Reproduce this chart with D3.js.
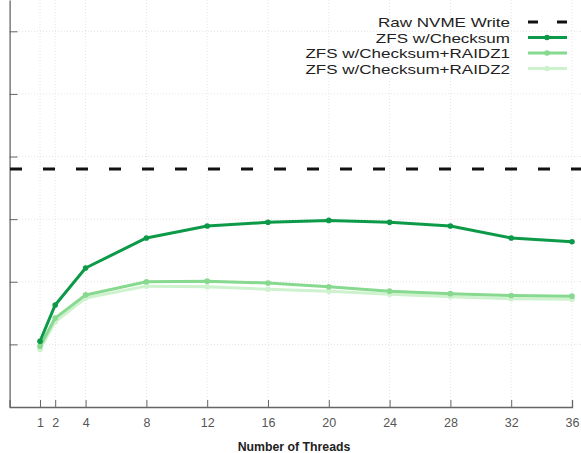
<!DOCTYPE html>
<html><head><meta charset="utf-8">
<script src="https://cdn.jsdelivr.net/npm/d3@7"></script>
<style>body{margin:0;background:#fff}svg{display:block}</style>
</head><body>
<svg id="c" width="581" height="453"></svg>
<script>
const threads = [1, 2, 4, 8, 12, 16, 20, 24, 28, 32, 36];
const xTicks = [1, 2, 4, 8, 12, 16, 20, 24, 28, 32, 36];
const yTicks = [1, 2, 3, 4, 5, 6];
const rawNvme = 3.80;
const zfsChecksum = [1.05, 1.63, 2.22, 2.70, 2.89, 2.95, 2.98, 2.95, 2.89, 2.70, 2.64];
const zfsRaidz1   = [0.97, 1.42, 1.79, 2.00, 2.01, 1.98, 1.92, 1.85, 1.81, 1.78, 1.77];
const zfsRaidz2   = [0.92, 1.36, 1.74, 1.93, 1.92, 1.88, 1.85, 1.80, 1.76, 1.73, 1.72];
const seriesNames = ["Raw NVME Write", "ZFS w/Checksum", "ZFS w/Checksum+RAIDZ1", "ZFS w/Checksum+RAIDZ2"];
const colors = ["#111", "#0c9a48", "#86d98f", "#cdf2cd"];

const svg = d3.select("#c");
const x = d3.scaleLinear().domain([-1, 36]).range([9.6, 572]);
const y = d3.scaleLinear().domain([0, 6.5]).range([407, 0]);
const font = "Liberation Sans, Arial, sans-serif";

// grid
const g = svg.append("g");
g.selectAll(".vg").data(xTicks).join("line")
  .attr("x1", d => x(d)).attr("x2", d => x(d)).attr("y1", 0).attr("y2", 407)
  .attr("stroke", "#e4e4e4").attr("stroke-width", 1).attr("stroke-dasharray", "1,2");
g.selectAll(".hg").data(yTicks).join("line")
  .attr("x1", 10).attr("x2", 581).attr("y1", d => y(d)).attr("y2", d => y(d))
  .attr("stroke", "#e4e4e4").attr("stroke-width", 1).attr("stroke-dasharray", "1,2");

// axes
const xa = svg.append("g").attr("transform", "translate(0,407)")
  .call(d3.axisBottom(x).tickValues(xTicks).tickSize(-7).tickPadding(11).tickFormat(d3.format("d")));
xa.select(".domain").attr("stroke", "#666").attr("stroke-width", 1.3);
xa.selectAll(".tick line").attr("stroke", "#666");
xa.selectAll("text").attr("fill", "#555").style("font-family", font).style("font-size", "12.5px");

const ya = svg.append("g").attr("transform", "translate(9.6,0)")
  .call(d3.axisLeft(y).tickValues(yTicks).tickSize(-8).tickSizeOuter(0).tickFormat(""));
ya.select(".domain").attr("stroke", "#666").attr("stroke-width", 1.3);
ya.selectAll(".tick line").attr("stroke", "#666");

svg.append("text").attr("x", 294).attr("y", 451).attr("text-anchor", "middle")
  .style("font-family", font).style("font-size", "12.3px").style("font-weight", "bold")
  .attr("fill", "#222").text("Number of Threads");

// raw NVME dashed
svg.append("line").attr("x1", 10).attr("x2", 581).attr("y1", y(rawNvme)).attr("y2", y(rawNvme))
  .attr("stroke", colors[0]).attr("stroke-width", 3).attr("stroke-dasharray", "12,21");

const line = d3.line().x((d, i) => x(threads[i])).y(d => y(d));
const series = [zfsRaidz2, zfsRaidz1, zfsChecksum];
const sc = [colors[3], colors[2], colors[1]];
series.forEach((s, k) => {
  svg.append("path").datum(s).attr("d", line).attr("fill", "none")
    .attr("stroke", sc[k]).attr("stroke-width", 3).attr("stroke-linejoin", "round");
  svg.selectAll(null).data(s).join("circle")
    .attr("cx", (d, i) => x(threads[i])).attr("cy", d => y(d)).attr("r", 2.8).attr("fill", sc[k]);
});

// legend
const lg = svg.append("g");
seriesNames.forEach((n, i) => {
  const cy = 22 + i * 15.5;
  const t = lg.append("text").attr("x", 510).attr("y", cy + 5).attr("text-anchor", "end")
    .style("font-family", font).style("font-size", "17px").attr("fill", "#222").text(n);
  const w = t.node().getComputedTextLength();
  t.style("font-size", "13.5px").attr("textLength", w).attr("lengthAdjust", "spacingAndGlyphs");
  const ln = lg.append("line").attr("x1", 528).attr("x2", 567).attr("y1", cy).attr("y2", cy)
    .attr("stroke", colors[i]).attr("stroke-width", 3);
  if (i === 0) ln.attr("stroke-dasharray", "10,19");
  else lg.append("circle").attr("cx", 547).attr("cy", cy).attr("r", 2.8).attr("fill", colors[i]);
});
</script>
</body></html>
